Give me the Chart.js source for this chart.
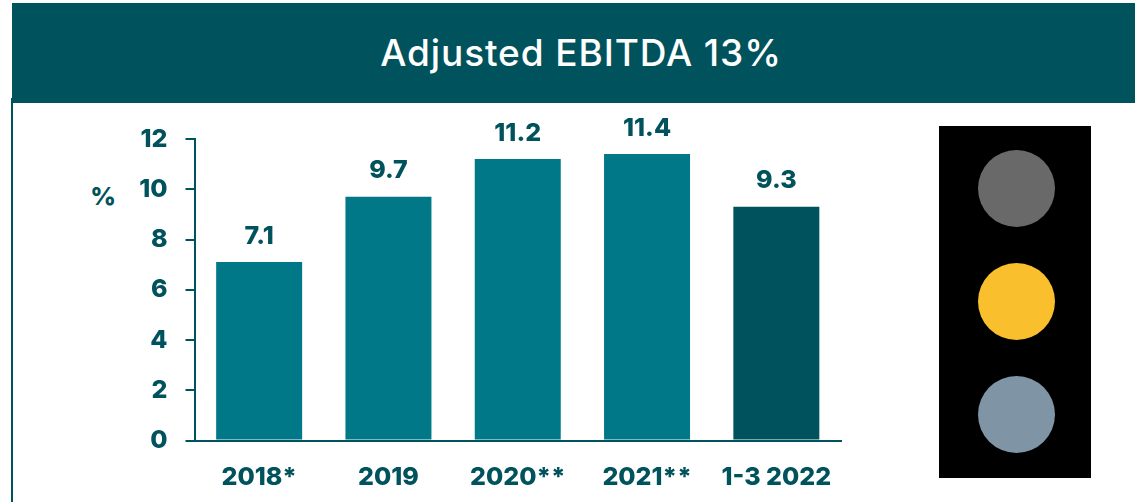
<!DOCTYPE html>
<html>
<head>
<meta charset="utf-8">
<script src="https://cdn.jsdelivr.net/npm/chart.js@4"></script>
<style>
html,body{margin:0;padding:0;background:#fff;width:1135px;height:502px;overflow:hidden;font-family:Inter,sans-serif}
#header{position:absolute;left:12px;top:3px;width:1123px;height:100px;background:#00525c;color:#fff;font-weight:500;font-size:37px;line-height:100px;text-align:center;letter-spacing:.9px;box-sizing:border-box;padding-left:15px}
#rule{position:absolute;left:11px;top:98px;width:2px;height:404px;background:#00525c}
#unit{position:absolute;left:83px;top:181px;width:40px;text-align:center;color:#00525c;font-weight:800;font-size:25px;line-height:30px}
#chart{position:absolute;left:0;top:0}
#light{position:absolute;left:939px;top:126px;width:152px;height:352px;background:#000}
.lamp{position:absolute;left:38.5px;width:77px;height:77px;border-radius:50%}
</style>
</head>
<body>
<div id="header">Adjusted EBITDA 13%</div>
<div id="rule"></div>
<div id="unit">%</div>
<canvas id="chart" width="920" height="502"></canvas>
<div id="light">
  <div class="lamp" style="top:23.5px;background:#696969"></div>
  <div class="lamp" style="top:136.5px;background:#f9bf2c"></div>
  <div class="lamp" style="top:249.5px;background:#7f94a5"></div>
</div>
<script>
const categories = ['2018*', '2019', '2020**', '2021**', '1-3 2022'];
const values = [7.1, 9.7, 11.2, 11.4, 9.3];
const valueLabels = ['7.1', '9.7', '11.2', '11.4', '9.3'];
const barColors = ['#007887', '#007887', '#007887', '#007887', '#00525c'];
const ink = '#00525c';
const font = {family: 'Inter, sans-serif', size: 25, weight: '800'};

const barLabels = {
  id: 'barLabels',
  afterDatasetsDraw(chart) {
    const ctx = chart.ctx;
    ctx.save();
    ctx.fillStyle = ink;
    ctx.font = `800 25px Inter, sans-serif`;
    ctx.textAlign = 'center';
    ctx.textBaseline = 'alphabetic';
    chart.getDatasetMeta(0).data.forEach((bar, i) => {
      ctx.fillText(valueLabels[i], bar.x, bar.y - 18.5);
    });
    ctx.restore();
  }
};

new Chart(document.getElementById('chart'), {
  type: 'bar',
  data: {
    labels: categories,
    datasets: [{
      data: values,
      backgroundColor: barColors,
      borderWidth: 0,
      barPercentage: 1,
      categoryPercentage: 0.665
    }]
  },
  options: {
    responsive: false,
    animation: false,
    layout: {padding: {top: 139, left: 0, right: 79, bottom: 0}},
    plugins: {legend: {display: false}, tooltip: {enabled: false}},
    scales: {
      x: {
        afterFit(s) { s.height = 61.5; },
        grid: {display: false},
        border: {display: true, color: ink, width: 2},
        ticks: {color: ink, font, padding: 14, maxRotation: 0, autoSkip: false}
      },
      y: {
        min: 0,
        max: 12,
        afterFit(s) { s.width = 194.5; },
        grid: {drawOnChartArea: false, color: ink, lineWidth: 2, tickLength: 9},
        border: {display: true, color: ink, width: 2},
        ticks: {color: ink, font, padding: 18, stepSize: 2}
      }
    }
  },
  plugins: [barLabels]
});
</script>
</body>
</html>
